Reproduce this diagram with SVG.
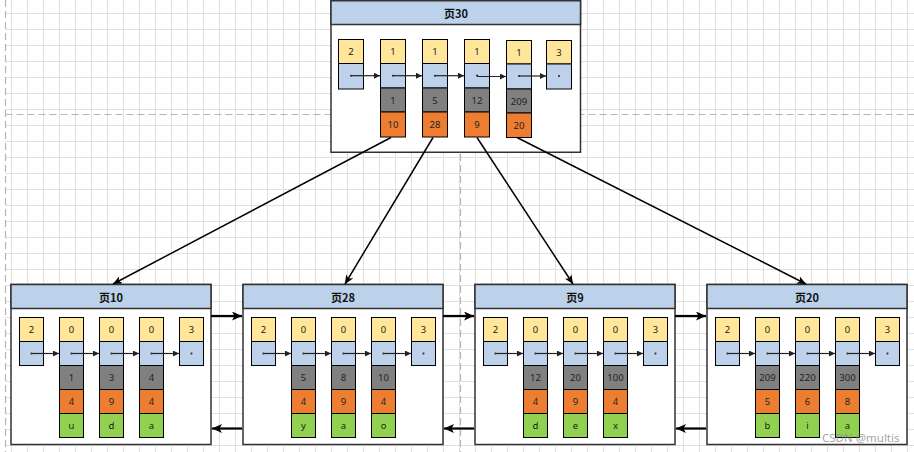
<svg xmlns="http://www.w3.org/2000/svg" width="914" height="452" viewBox="0 0 914 452">
<style>
.page{fill:#fff;stroke:#333;stroke-width:1.5}
.hdr{fill:#bcd1ea;stroke:#333;stroke-width:1.5}
.y{fill:#ffe699;stroke:#000;stroke-width:1}
.b{fill:#bdd1ea;stroke:#000;stroke-width:1}
.g{fill:#808080;stroke:#000;stroke-width:1}
.o{fill:#ed7d31;stroke:#000;stroke-width:1}
.gr{fill:#92d050;stroke:#000;stroke-width:1}
.t{font-family:"Noto Sans","Noto Sans CJK SC",sans-serif;font-size:9.5px;fill:#222;text-anchor:middle;dominant-baseline:central}
.title{font-family:"Noto Sans CJK SC","Noto Sans",sans-serif;font-size:11px;font-weight:bold;fill:#111;text-anchor:middle;dominant-baseline:central}
.in{stroke:#222;stroke-width:1.2;fill:none;marker-end:url(#sa)}
.dot{fill:#222}
.conn{stroke:#000;stroke-width:1.5;fill:none;marker-end:url(#ca)}
.link{stroke:#000;stroke-width:2.2;fill:none;marker-end:url(#la)}
</style>
<defs>
<pattern id="grid" patternUnits="userSpaceOnUse" x="11" y="13" width="16" height="16">
<path d="M0.5 0V16M0 0.5H16" stroke="#e0e0e0" stroke-width="1" fill="none"/>
</pattern>
<marker id="sa" markerUnits="userSpaceOnUse" markerWidth="7" markerHeight="6" refX="6" refY="3" orient="auto"><path d="M0,0L6,3L0,6z" fill="#222"/></marker>
<marker id="ca" markerUnits="userSpaceOnUse" markerWidth="10" markerHeight="8" refX="9" refY="4" orient="auto"><path d="M0,0L9,4L0,8L2.5,4z" fill="#000"/></marker>
<marker id="la" markerUnits="userSpaceOnUse" markerWidth="11" markerHeight="9" refX="10" refY="4.5" orient="auto"><path d="M0,0L10,4.5L0,9L2.5,4.5z" fill="#000"/></marker>
</defs>
<rect width="914" height="452" fill="#fff"/>
<rect x="5.5" y="0" width="909" height="452" fill="url(#grid)"/>
<g stroke="#b5b5b5" stroke-width="1.2" stroke-dasharray="7 4" fill="none">
<path d="M5.5 0V452"/>
<path d="M5.5 114.5H914"/>
<path d="M460.5 0V452"/>
</g>

<g id="page30">
<rect class="page" x="331" y="0.75" width="249.5" height="151.5"/>
<rect class="hdr" x="331" y="0.75" width="249.5" height="23.75"/>
<text class="title" x="456" y="13">页30</text>
<rect class="y" x="338.5" y="39.5" width="25" height="24"/><rect class="b" x="338.5" y="63.5" width="25" height="25.5"/>
<rect class="y" x="380.5" y="39.5" width="25" height="24"/><rect class="b" x="380.5" y="63.5" width="25" height="24.5"/><rect class="g" x="380.5" y="88" width="25" height="24"/><rect class="o" x="380.5" y="112" width="25" height="25"/>
<rect class="y" x="422.5" y="39.5" width="25" height="24"/><rect class="b" x="422.5" y="63.5" width="25" height="24.5"/><rect class="g" x="422.5" y="88" width="25" height="24"/><rect class="o" x="422.5" y="112" width="25" height="25"/>
<rect class="y" x="464.5" y="39.5" width="25" height="24"/><rect class="b" x="464.5" y="63.5" width="25" height="24.5"/><rect class="g" x="464.5" y="88" width="25" height="24"/><rect class="o" x="464.5" y="112" width="25" height="25"/>
<rect class="y" x="506.5" y="40.5" width="25" height="23.5"/><rect class="b" x="506.5" y="64" width="25" height="25"/><rect class="g" x="506.5" y="89" width="25" height="24"/><rect class="o" x="506.5" y="113" width="25" height="24.5"/>
<rect class="y" x="546.5" y="40.5" width="25" height="23.5"/><rect class="b" x="546.5" y="64" width="25" height="25"/>
<text class="t" x="351" y="51.5">2</text><text class="t" x="393" y="51.5">1</text><text class="t" x="435" y="51.5">1</text><text class="t" x="477" y="51.5">1</text><text class="t" x="519" y="52.5">1</text><text class="t" x="559" y="52">3</text>
<text class="t" x="393" y="100">1</text><text class="t" x="435" y="100">5</text><text class="t" x="477" y="100">12</text><text class="t" x="519" y="101">209</text>
<text class="t" x="393" y="124.5">10</text><text class="t" x="435" y="124.5">28</text><text class="t" x="477" y="124.5">9</text><text class="t" x="519" y="125.5">20</text>
<circle class="dot" cx="351" cy="75.7" r="1"/><circle class="dot" cx="393" cy="75.7" r="1"/><circle class="dot" cx="435" cy="75.7" r="1"/><circle class="dot" cx="477" cy="75.5" r="1"/><circle class="dot" cx="519" cy="76" r="1"/><circle class="dot" cx="559" cy="76" r="1"/>
<path class="in" d="M351 75.7H380"/><path class="in" d="M393 75.7H422"/><path class="in" d="M435 75.7H464"/><path class="in" d="M477 75.5L478 76.5H506"/><path class="in" d="M519 76H546"/>
</g>

<g id="page10">
<rect class="page" x="11" y="284.5" width="200" height="160"/>
<rect class="hdr" x="11" y="284.5" width="200" height="24"/>
<text class="title" x="111" y="296.5">页10</text>
<rect class="y" x="19.5" y="317.5" width="24" height="24"/><rect class="b" x="19.5" y="341.5" width="24" height="24"/>
<rect class="y" x="59.5" y="317.5" width="24" height="24"/><rect class="b" x="59.5" y="341.5" width="24" height="24"/><rect class="g" x="59.5" y="365.5" width="24" height="24"/><rect class="o" x="59.5" y="389.5" width="24" height="24"/><rect class="gr" x="59.5" y="413.5" width="24" height="24"/>
<rect class="y" x="99.5" y="317.5" width="24" height="24"/><rect class="b" x="99.5" y="341.5" width="24" height="24"/><rect class="g" x="99.5" y="365.5" width="24" height="24"/><rect class="o" x="99.5" y="389.5" width="24" height="24"/><rect class="gr" x="99.5" y="413.5" width="24" height="24"/>
<rect class="y" x="139.5" y="317.5" width="24" height="24"/><rect class="b" x="139.5" y="341.5" width="24" height="24"/><rect class="g" x="139.5" y="365.5" width="24" height="24"/><rect class="o" x="139.5" y="389.5" width="24" height="24"/><rect class="gr" x="139.5" y="413.5" width="24" height="24"/>
<rect class="y" x="179.5" y="317.5" width="24" height="24"/><rect class="b" x="179.5" y="341.5" width="24" height="24"/>
<text class="t" x="31.5" y="329.5">2</text><text class="t" x="71.5" y="329.5">0</text><text class="t" x="111.5" y="329.5">0</text><text class="t" x="151.5" y="329.5">0</text><text class="t" x="191.5" y="329.5">3</text>
<text class="t" x="71.5" y="377.5">1</text><text class="t" x="111.5" y="377.5">3</text><text class="t" x="151.5" y="377.5">4</text>
<text class="t" x="71.5" y="401.5">4</text><text class="t" x="111.5" y="401.5">9</text><text class="t" x="151.5" y="401.5">4</text>
<text class="t" x="71.5" y="425">u</text><text class="t" x="111.5" y="425">d</text><text class="t" x="151.5" y="425">a</text>
<circle class="dot" cx="31.5" cy="353.5" r="1"/><circle class="dot" cx="71.5" cy="353.5" r="1"/><circle class="dot" cx="111.5" cy="353.5" r="1"/><circle class="dot" cx="151.5" cy="353.5" r="1"/><circle class="dot" cx="191.5" cy="353.5" r="1"/>
<path class="in" d="M31.5 353.5H59"/><path class="in" d="M71.5 353.5H99"/><path class="in" d="M111.5 353.5H139"/><path class="in" d="M151.5 353.5H179"/>
</g>

<g id="page28">
<rect class="page" x="243" y="284.5" width="200" height="160"/>
<rect class="hdr" x="243" y="284.5" width="200" height="24"/>
<text class="title" x="343" y="296.5">页28</text>
<rect class="y" x="251.5" y="317.5" width="24" height="24"/><rect class="b" x="251.5" y="341.5" width="24" height="24"/>
<rect class="y" x="291.5" y="317.5" width="24" height="24"/><rect class="b" x="291.5" y="341.5" width="24" height="24"/><rect class="g" x="291.5" y="365.5" width="24" height="24"/><rect class="o" x="291.5" y="389.5" width="24" height="24"/><rect class="gr" x="291.5" y="413.5" width="24" height="24"/>
<rect class="y" x="331.5" y="317.5" width="24" height="24"/><rect class="b" x="331.5" y="341.5" width="24" height="24"/><rect class="g" x="331.5" y="365.5" width="24" height="24"/><rect class="o" x="331.5" y="389.5" width="24" height="24"/><rect class="gr" x="331.5" y="413.5" width="24" height="24"/>
<rect class="y" x="371.5" y="317.5" width="24" height="24"/><rect class="b" x="371.5" y="341.5" width="24" height="24"/><rect class="g" x="371.5" y="365.5" width="24" height="24"/><rect class="o" x="371.5" y="389.5" width="24" height="24"/><rect class="gr" x="371.5" y="413.5" width="24" height="24"/>
<rect class="y" x="411.5" y="317.5" width="24" height="24"/><rect class="b" x="411.5" y="341.5" width="24" height="24"/>
<text class="t" x="263.5" y="329.5">2</text><text class="t" x="303.5" y="329.5">0</text><text class="t" x="343.5" y="329.5">0</text><text class="t" x="383.5" y="329.5">0</text><text class="t" x="423.5" y="329.5">3</text>
<text class="t" x="303.5" y="377.5">5</text><text class="t" x="343.5" y="377.5">8</text><text class="t" x="383.5" y="377.5">10</text>
<text class="t" x="303.5" y="401.5">4</text><text class="t" x="343.5" y="401.5">9</text><text class="t" x="383.5" y="401.5">4</text>
<text class="t" x="303.5" y="425">y</text><text class="t" x="343.5" y="425">a</text><text class="t" x="383.5" y="425">o</text>
<circle class="dot" cx="263.5" cy="353.5" r="1"/><circle class="dot" cx="303.5" cy="353.5" r="1"/><circle class="dot" cx="343.5" cy="353.5" r="1"/><circle class="dot" cx="383.5" cy="353.5" r="1"/><circle class="dot" cx="423.5" cy="353.5" r="1"/>
<path class="in" d="M263.5 353.5H291"/><path class="in" d="M303.5 353.5H331"/><path class="in" d="M343.5 353.5H371"/><path class="in" d="M383.5 353.5H411"/>
</g>

<g id="page9">
<rect class="page" x="475" y="284.5" width="200" height="160"/>
<rect class="hdr" x="475" y="284.5" width="200" height="24"/>
<text class="title" x="575" y="296.5">页9</text>
<rect class="y" x="483.5" y="317.5" width="24" height="24"/><rect class="b" x="483.5" y="341.5" width="24" height="24"/>
<rect class="y" x="523.5" y="317.5" width="24" height="24"/><rect class="b" x="523.5" y="341.5" width="24" height="24"/><rect class="g" x="523.5" y="365.5" width="24" height="24"/><rect class="o" x="523.5" y="389.5" width="24" height="24"/><rect class="gr" x="523.5" y="413.5" width="24" height="24"/>
<rect class="y" x="563.5" y="317.5" width="24" height="24"/><rect class="b" x="563.5" y="341.5" width="24" height="24"/><rect class="g" x="563.5" y="365.5" width="24" height="24"/><rect class="o" x="563.5" y="389.5" width="24" height="24"/><rect class="gr" x="563.5" y="413.5" width="24" height="24"/>
<rect class="y" x="603.5" y="317.5" width="24" height="24"/><rect class="b" x="603.5" y="341.5" width="24" height="24"/><rect class="g" x="603.5" y="365.5" width="24" height="24"/><rect class="o" x="603.5" y="389.5" width="24" height="24"/><rect class="gr" x="603.5" y="413.5" width="24" height="24"/>
<rect class="y" x="643.5" y="317.5" width="24" height="24"/><rect class="b" x="643.5" y="341.5" width="24" height="24"/>
<text class="t" x="495.5" y="329.5">2</text><text class="t" x="535.5" y="329.5">0</text><text class="t" x="575.5" y="329.5">0</text><text class="t" x="615.5" y="329.5">0</text><text class="t" x="655.5" y="329.5">3</text>
<text class="t" x="535.5" y="377.5">12</text><text class="t" x="575.5" y="377.5">20</text><text class="t" x="615.5" y="377.5">100</text>
<text class="t" x="535.5" y="401.5">4</text><text class="t" x="575.5" y="401.5">9</text><text class="t" x="615.5" y="401.5">4</text>
<text class="t" x="535.5" y="425">d</text><text class="t" x="575.5" y="425">e</text><text class="t" x="615.5" y="425">x</text>
<circle class="dot" cx="495.5" cy="353.5" r="1"/><circle class="dot" cx="535.5" cy="353.5" r="1"/><circle class="dot" cx="575.5" cy="353.5" r="1"/><circle class="dot" cx="615.5" cy="353.5" r="1"/><circle class="dot" cx="655.5" cy="353.5" r="1"/>
<path class="in" d="M495.5 353.5H523"/><path class="in" d="M535.5 353.5H563"/><path class="in" d="M575.5 353.5H603"/><path class="in" d="M615.5 353.5H643"/>
</g>

<g id="page20">
<rect class="page" x="707" y="284.5" width="200" height="160"/>
<rect class="hdr" x="707" y="284.5" width="200" height="24"/>
<text class="title" x="807" y="296.5">页20</text>
<rect class="y" x="715.5" y="317.5" width="24" height="24"/><rect class="b" x="715.5" y="341.5" width="24" height="24"/>
<rect class="y" x="755.5" y="317.5" width="24" height="24"/><rect class="b" x="755.5" y="341.5" width="24" height="24"/><rect class="g" x="755.5" y="365.5" width="24" height="24"/><rect class="o" x="755.5" y="389.5" width="24" height="24"/><rect class="gr" x="755.5" y="413.5" width="24" height="24"/>
<rect class="y" x="795.5" y="317.5" width="24" height="24"/><rect class="b" x="795.5" y="341.5" width="24" height="24"/><rect class="g" x="795.5" y="365.5" width="24" height="24"/><rect class="o" x="795.5" y="389.5" width="24" height="24"/><rect class="gr" x="795.5" y="413.5" width="24" height="24"/>
<rect class="y" x="835.5" y="317.5" width="24" height="24"/><rect class="b" x="835.5" y="341.5" width="24" height="24"/><rect class="g" x="835.5" y="365.5" width="24" height="24"/><rect class="o" x="835.5" y="389.5" width="24" height="24"/><rect class="gr" x="835.5" y="413.5" width="24" height="24"/>
<rect class="y" x="875.5" y="317.5" width="24" height="24"/><rect class="b" x="875.5" y="341.5" width="24" height="24"/>
<text class="t" x="727.5" y="329.5">2</text><text class="t" x="767.5" y="329.5">0</text><text class="t" x="807.5" y="329.5">0</text><text class="t" x="847.5" y="329.5">0</text><text class="t" x="887.5" y="329.5">3</text>
<text class="t" x="767.5" y="377.5">209</text><text class="t" x="807.5" y="377.5">220</text><text class="t" x="847.5" y="377.5">300</text>
<text class="t" x="767.5" y="401.5">5</text><text class="t" x="807.5" y="401.5">6</text><text class="t" x="847.5" y="401.5">8</text>
<text class="t" x="767.5" y="425">b</text><text class="t" x="807.5" y="425">i</text><text class="t" x="847.5" y="425">a</text>
<circle class="dot" cx="727.5" cy="353.5" r="1"/><circle class="dot" cx="767.5" cy="353.5" r="1"/><circle class="dot" cx="807.5" cy="353.5" r="1"/><circle class="dot" cx="847.5" cy="353.5" r="1"/><circle class="dot" cx="887.5" cy="353.5" r="1"/>
<path class="in" d="M727.5 353.5H755"/><path class="in" d="M767.5 353.5H795"/><path class="in" d="M807.5 353.5H835"/><path class="in" d="M847.5 353.5H875"/>
</g>

<g id="connectors">
<path class="conn" d="M391 137.5L113 284"/>
<path class="conn" d="M433 137.5L345 284"/>
<path class="conn" d="M477 137.5L573 284"/>
<path class="conn" d="M517 137.5L806 284"/>
<path class="link" d="M211 316H242"/>
<path class="link" d="M443 316H474"/>
<path class="link" d="M675 316H706"/>
<path class="link" d="M242 428.5H212"/>
<path class="link" d="M474 428.5H444"/>
<path class="link" d="M706 428.5H676"/>
</g>
<text x="822" y="442" font-family="'Noto Sans',sans-serif" font-size="11.5" fill="#8a8a8a" fill-opacity="0.8">CSDN @multis</text>
</svg>
